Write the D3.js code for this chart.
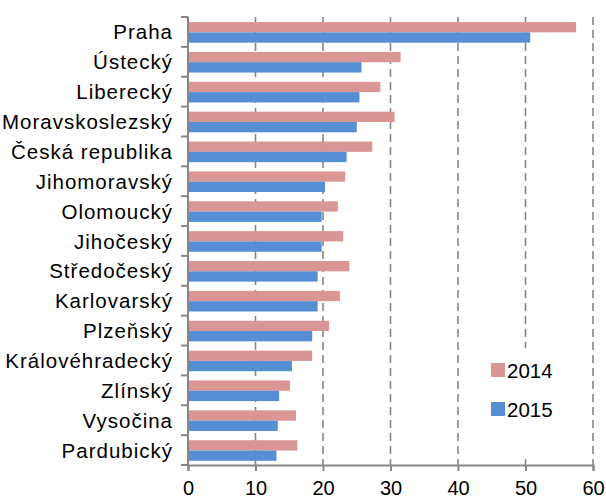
<!DOCTYPE html>
<html>
<head>
<meta charset="utf-8">
<script src="https://cdn.jsdelivr.net/npm/d3@7"></script>
<style>
  body { margin: 0; background: #fff; }
  text { font-family: "Liberation Sans", Arial, sans-serif; fill: #000; }
</style>
</head>
<body>
<div id="chart"></div>
<script>
// regions, top to bottom
var regions = ["Praha", "Ústecký", "Liberecký", "Moravskoslezský", "Česká republika",
  "Jihomoravský", "Olomoucký", "Jihočeský", "Středočeský", "Karlovarský",
  "Plzeňský", "Královéhradecký", "Zlínský", "Vysočina", "Pardubický"];
var v2014 = [57.5, 31.5, 28.5, 30.6, 27.3, 23.3, 22.2, 23.0, 23.9, 22.5, 20.9, 18.4, 15.1, 16.0, 16.2];
var v2015 = [50.7, 25.7, 25.4, 25.0, 23.5, 20.3, 19.8, 19.8, 19.2, 19.2, 18.4, 15.4, 13.5, 13.3, 13.1];
var series = ["2014", "2015"];
var colors = ["#d99694", "#558ed5"];
var xTicks = [0, 10, 20, 30, 40, 50, 60];

var W = 606, H = 498;
var margin = {top: 17, right: 13, bottom: 33, left: 188};

var svg = d3.select("#chart").append("svg").attr("width", W).attr("height", H);
var g = svg.append("g").attr("transform", "translate(" + margin.left + "," + margin.top + ")");
var w = W - margin.left - margin.right, h = H - margin.top - margin.bottom;

var x = d3.scaleLinear().domain([0, 60]).range([0, w]);
var y = d3.scaleBand().domain(regions).range([0, h]);
var inner = d3.scaleBand().domain(series).range([y.bandwidth() * 0.17, y.bandwidth() * 0.86]);

// dashed gridlines
g.selectAll("line.grid").data(xTicks.slice(1)).enter().append("line")
  .attr("class", "grid")
  .attr("x1", d => x(d)).attr("x2", d => x(d))
  .attr("y1", 0).attr("y2", h)
  .attr("stroke", "#868686").attr("stroke-width", 1.6)
  .attr("stroke-dasharray", "8,5");

// bars
var rows = g.selectAll("g.row").data(regions).enter().append("g")
  .attr("transform", d => "translate(0," + y(d) + ")");
rows.each(function(d, i) {
  var vals = [v2014[i], v2015[i]];
  d3.select(this).selectAll("rect").data(series).enter().append("rect")
    .attr("x", 0)
    .attr("y", s => inner(s))
    .attr("width", (s, j) => x(vals[j]))
    .attr("height", inner.bandwidth())
    .attr("fill", (s, j) => colors[j]);
});

// category axis
g.append("line").attr("x1", 0).attr("x2", 0).attr("y1", 0).attr("y2", h)
  .attr("stroke", "#868686").attr("stroke-width", 2);
var bounds = regions.map(d => y(d)).concat([h]);
g.selectAll("line.ctick").data(bounds).enter().append("line")
  .attr("x1", -7).attr("x2", 0).attr("y1", d => d).attr("y2", d => d)
  .attr("stroke", "#868686").attr("stroke-width", 2);
g.selectAll("text.cat").data(regions).enter().append("text")
  .attr("x", -15)
  .attr("y", d => y(d) + y.bandwidth() / 2 + 7.5)
  .attr("text-anchor", "end")
  .style("font-size", "20.5px")
  .style("letter-spacing", "1px")
  .text(d => d);

// value axis
var xAxis = g.append("g").attr("transform", "translate(0," + h + ")")
  .call(d3.axisBottom(x).tickValues(xTicks).tickSize(6).tickPadding(10));
xAxis.select(".domain").attr("stroke", "#868686").attr("stroke-width", 2);
xAxis.selectAll(".tick line").attr("stroke", "#868686").attr("stroke-width", 2);
xAxis.selectAll("text").style("font-size", "20px").attr("fill", "#000");

// legend
var lg = g.append("g").attr("transform", "translate(" + (470 - margin.left) + "," + (348 - margin.top) + ")");
lg.append("rect").attr("width", 115).attr("height", 106).attr("fill", "#fff");
series.forEach(function(s, i) {
  lg.append("rect").attr("x", 21).attr("y", 15 + i * 39).attr("width", 14).attr("height", 14)
    .attr("fill", colors[i]);
  lg.append("text").attr("x", 37).attr("y", 29.5 + i * 39)
    .style("font-size", "20.5px").text(s);
});
</script>
</body>
</html>
